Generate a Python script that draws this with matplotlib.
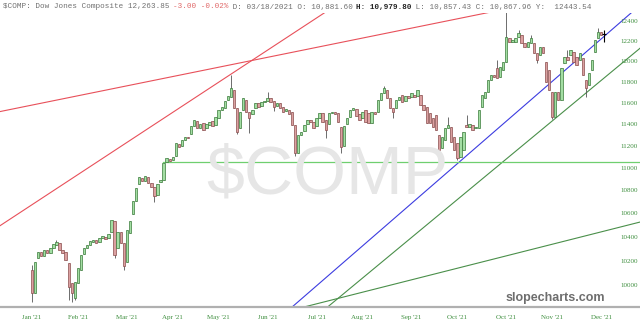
import matplotlib
matplotlib.use("Agg")
import matplotlib.pyplot as plt

# daily candles (Jan - Dec 2021)
opens = [
    10123, 9935, 10223, 10273, 10239, 10289, 10264, 10306, 10331, 10348,
    10289, 10273, 10181, 10016, 9895, 10016, 10123, 10256, 10306, 10331,
    10356, 10373, 10356, 10390, 10399, 10390, 10441, 10535, 10306, 10441,
    10348, 10190, 10433, 10595, 10707, 10858, 10911, 10884, 10920, 10867,
    10831, 10760, 10876, 10893, 11054, 11081, 11072, 11108, 11217, 11199,
    11253, 11281, 11309, 11383, 11429, 11364, 11410, 11364, 11392, 11429,
    11392, 11457, 11532, 11551, 11626, 11655, 11721, 11551, 11364, 11532,
    11626, 11513, 11495, 11551, 11598, 11570, 11607, 11617, 11645, 11617,
    11570, 11598, 11560, 11523, 11532, 11513, 11392, 11135, 11299, 11337,
    11401, 11438, 11420, 11383, 11457, 11504, 11438, 11401, 11504, 11513,
    11504, 11374, 11199, 11401, 11466, 11532, 11542, 11495, 11457, 11532,
    11504, 11410, 11513, 11513, 11626, 11693, 11721, 11645, 11551, 11551,
    11626, 11674, 11617, 11664, 11655, 11674, 11664, 11674, 11579, 11560,
    11504, 11457, 11485, 11299, 11180, 11253, 11364, 11374, 11281, 11226,
    11099, 11162, 11392, 11374, 11392, 11364, 11364, 11560, 11645, 11702,
    11817, 11866, 11933, 11846, 11914, 11992, 12228, 12189, 12189, 12238,
    12258, 12179, 12140, 12179, 12179, 12080, 12061, 12140, 11992, 11914,
    11702, 11466, 11702, 11626, 11982, 12041, 12061, 12090, 12041, 12011,
    12031, 11817, 11769, 11914, 12090, 12228, 12288, 12268]

closes = [
    9935, 10190, 10273, 10239, 10289, 10264, 10306, 10340, 10356, 10289,
    10264, 10206, 9984, 9935, 10025, 10140, 10248, 10306, 10331, 10365,
    10373, 10348, 10390, 10407, 10382, 10424, 10544, 10248, 10441, 10348,
    10156, 10458, 10535, 10707, 10822, 10920, 10884, 10929, 10867, 10831,
    10751, 10858, 10893, 11045, 11090, 11063, 11099, 11226, 11190, 11253,
    11281, 11272, 11383, 11438, 11364, 11401, 11346, 11401, 11420, 11383,
    11466, 11532, 11560, 11617, 11664, 11740, 11551, 11327, 11513, 11645,
    11513, 11457, 11532, 11598, 11560, 11607, 11617, 11645, 11607, 11560,
    11598, 11551, 11513, 11542, 11495, 11392, 11135, 11299, 11327, 11392,
    11438, 11420, 11364, 11457, 11504, 11420, 11346, 11504, 11513, 11495,
    11420, 11190, 11383, 11457, 11532, 11551, 11476, 11438, 11513, 11420,
    11410, 11513, 11495, 11626, 11693, 11740, 11645, 11551, 11513, 11626,
    11655, 11607, 11664, 11645, 11693, 11655, 11721, 11579, 11532, 11410,
    11410, 11374, 11346, 11162, 11281, 11364, 11392, 11235, 11162, 11090,
    11281, 11327, 11374, 11401, 11346, 11374, 11532, 11674, 11702, 11817,
    11866, 11846, 11836, 11943, 11992, 12238, 12189, 12208, 12228, 12278,
    12179, 12140, 12189, 12228, 12080, 12011, 12140, 12080, 11798, 11721,
    11466, 11702, 11626, 11933, 12041, 12011, 12110, 11992, 11962, 12080,
    11866, 11740, 11885, 12011, 12208, 12288, 12258, 12263.85]

# the longer wicks
wick_high = {0: 10165, 8: 10373, 65: 11866, 77: 11702, 115: 11759, 136: 11466,
             142: 11485, 152: 12011, 155: 12489, 159: 12308, 163: 12258,
             175: 12110, 185: 12328, 187: 12308}
wick_low = {0: 9863, 12: 9879, 13: 9863, 14: 9879, 27: 10223, 30: 10123,
            40: 10699, 67: 11309, 71: 11318, 79: 11523, 86: 11108, 96: 11272,
            101: 11135, 118: 11457, 133: 11054, 139: 11072, 165: 11982,
            170: 11448, 181: 11655, 187: 12189}

tick_idx = [0, 15, 31, 46, 61, 77, 93, 108, 124, 139, 155, 170, 186]
tick_labels = ["Jan '21", "Feb '21", "Mar '21", "Apr '21", "May '21", "Jun '21",
               "Jul '21", "Aug '21", "Sep '21", "Oct '21", "Oct '21", "Nov '21",
               "Dec '21"]
yticks = [10000, 10200, 10400, 10600, 10800, 11000, 11200, 11400, 11600,
          11800, 12000, 12200, 12400]

# drawn trendlines: (index, price) anchor pairs
red_lines = [[(-10.5, 11516), (153, 12507)], [(-10.5, 10494), (100.7, 12585)]]
blue_line = [(85, 9823), (198.7, 12557)]
green_lines = [[(96.6, 9823), (198.7, 12125)], [(88.9, 9823), (198.7, 10526)]]
support = (42.8, 11049)

fig = plt.figure(figsize=(6.4, 3.3), dpi=100)
ax = fig.add_axes([0, 23 / 330, 1, 294 / 330])
ax.set_yscale("log")

fig.text(206 / 640, 1 - 194 / 330, r"\$COMP", fontsize=49, color="#e6e6e6",
         family=["Liberation Sans", "DejaVu Sans"],
         ha="left", va="baseline", zorder=0)

for i, (o, c) in enumerate(zip(opens, closes)):
    hi = wick_high.get(i, max(o, c))
    lo = wick_low.get(i, min(o, c))
    if abs(o - c) / c < 0.0005:
        ax.vlines(i, lo, hi, color="black", lw=0.8, zorder=3)
        ax.hlines(c, i - 0.6, i + 0.6, color="black", lw=0.8, zorder=3)
        continue
    if c >= o:
        face, edge = "#a3dea3", "#3a7a3a"
    else:
        face, edge = "#dba0a0", "#8a4d4d"
    ax.vlines(i, lo, hi, color="#555555", lw=0.6, zorder=2)
    ax.bar(i, abs(c - o), bottom=min(o, c), width=0.78, color=face,
           edgecolor=edge, linewidth=0.5, zorder=3)

for (x0, y0), (x1, y1) in red_lines:
    ax.plot([x0, x1], [y0, y1], color="#e8505a", lw=0.8, zorder=1)
ax.plot([blue_line[0][0], blue_line[1][0]], [blue_line[0][1], blue_line[1][1]],
        color="#3c3ce0", lw=0.8, zorder=1)
for (x0, y0), (x1, y1) in green_lines:
    ax.plot([x0, x1], [y0, y1], color="#4a8f4a", lw=0.8, zorder=1)
ax.plot([support[0], 250], [support[1], support[1]], color="#6fcf6f", lw=0.9,
        zorder=1)

ax.set_xlim(-10.46, 198.7)
ax.set_ylim(9823, 12478)

ax.set_xticks(tick_idx, tick_labels)
ax.yaxis.tick_right()
ax.set_yticks(yticks, [str(v) for v in yticks])
ax.minorticks_off()
ax.tick_params(axis="x", length=0, pad=6, labelsize=5, labelcolor="#3f8f3f")
ax.tick_params(axis="y", length=0, pad=-14, labelsize=5, labelcolor="#3f8f3f")
for lab in ax.get_xticklabels() + ax.get_yticklabels():
    lab.set_family(["Liberation Serif", "DejaVu Serif"])

for s in ["top", "left", "right"]:
    ax.spines[s].set_visible(False)
ax.spines["bottom"].set_color("#b0b0b0")
ax.spines["bottom"].set_linewidth(1.6)

fig.text(605 / 640, 1 - 301 / 330, "slopecharts.com", fontsize=9,
         fontweight="bold", color="#6e6e6e", ha="right", va="baseline",
         family=["Liberation Sans", "DejaVu Sans"])

# header line, monospace so pieces can be laid out by character count
header = [
    (r"\$COMP: Dow Jones Composite 12,263.85 ", "#707070", "normal", 37),
    ("-3.00 -0.02%", "#e06868", "normal", 12),
    (" D: 03/18/2021 O: 10,881.60 ", "#707070", "normal", 28),
    ("H: 10,979.80", "#222222", "bold", 12),
    (" L: 10,857.43 C: 10,867.96 Y:  12443.54", "#707070", "normal", 39),
]
fs = 5.5
charw = 0.6 * fs * 100 / 72
x = 3
for txt, col, wt, n in header:
    fig.text(x / 640, 1 - 7 / 330, txt, fontsize=fs, color=col, fontweight=wt,
             family=["Liberation Mono", "DejaVu Sans Mono"], ha="left",
             va="center")
    x += n * charw

fig.savefig("out.png", dpi=100)
